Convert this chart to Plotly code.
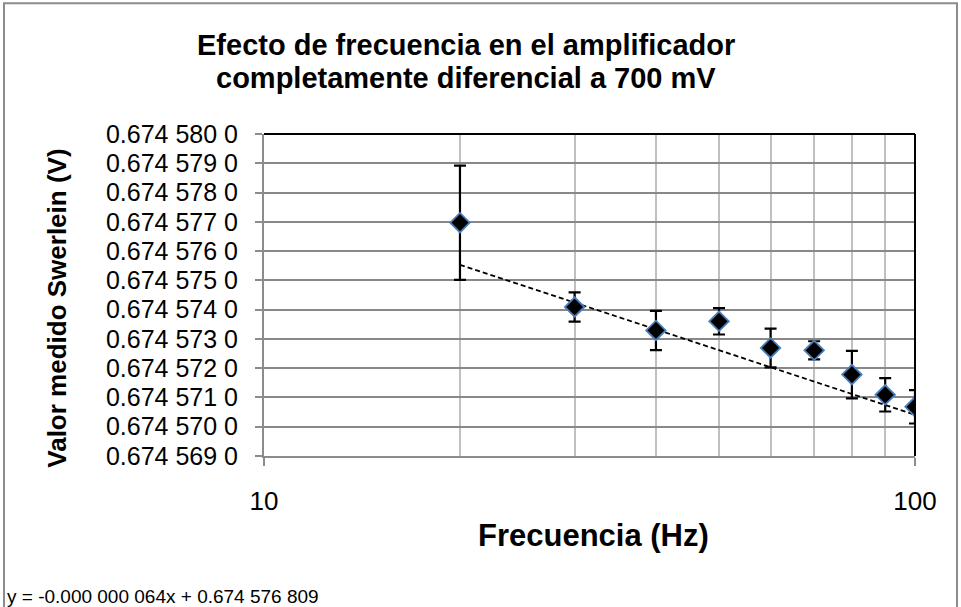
import plotly.graph_objects as go

# ---- data ----
freq_hz = [20, 30, 40, 50, 60, 70, 80, 90, 100]
swerlein_v = [0.67457697, 0.67457409, 0.67457329, 0.67457360, 0.67457269,
              0.67457261, 0.67457178, 0.67457109, 0.67457068]
err_v = [0.00000195, 0.00000050, 0.00000067, 0.00000045, 0.00000066,
         0.00000031, 0.00000081, 0.00000057, 0.00000057]
trend_slope = -0.000000064
trend_intercept = 0.674576809
y_ticks = [0.674569, 0.674570, 0.674571, 0.674572, 0.674573, 0.674574,
           0.674575, 0.674576, 0.674577, 0.674578, 0.674579, 0.674580]
y_tick_text = ["0.674 569 0", "0.674 570 0", "0.674 571 0", "0.674 572 0",
               "0.674 573 0", "0.674 574 0", "0.674 575 0", "0.674 576 0",
               "0.674 577 0", "0.674 578 0", "0.674 579 0", "0.674 580 0"]
x_major = [10, 100]
x_minor = [20, 30, 40, 50, 60, 70, 80, 90]
title_lines = ["Efecto de frecuencia en el amplificador",
               "completamente diferencial a 700 mV"]
x_title = "Frecuencia (Hz)"
y_title = "Valor medido Swerlein (V)"
equation = "y = -0.000 000 064x + 0.674 576 809"

# trendline endpoints (drawn straight between first and last frequency)
trend_x = [freq_hz[0], freq_hz[-1]]
trend_y = [trend_slope * f + trend_intercept for f in trend_x]

# ---- layout geometry (pixels) ----
W, H = 961, 607
L, R, T, B = 264, 915, 134, 456.5


def px(x):
    return (x - L) / (R - L)


def py(y):
    return (B - y) / (B - T)


FONT = "Liberation Sans, Arial, sans-serif"

fig = go.Figure()

fig.add_trace(go.Scatter(
    x=trend_x, y=trend_y, mode="lines",
    line=dict(color="black", width=1.8, dash="5px,3px"),
    hoverinfo="skip", showlegend=False))

fig.add_trace(go.Scatter(
    x=freq_hz, y=swerlein_v, mode="markers",
    marker=dict(symbol="diamond", size=15, color="black",
                line=dict(color="#4a7ebb", width=1.8)),
    error_y=dict(type="data", array=err_v, visible=True,
                 color="black", thickness=2.2, width=6),
    showlegend=False))

fig.update_layout(
    width=W, height=H,
    margin=dict(l=L, r=W - R, t=T, b=H - B, pad=0),
    paper_bgcolor="white", plot_bgcolor="white",
    font=dict(family=FONT, color="black"),
    xaxis=dict(
        type="log", range=[1, 2],
        tickvals=x_major, ticktext=["10", "100"],
        ticks="outside", ticklen=8, tickcolor="#8c8c8c", tickwidth=2,
        tickfont=dict(size=26, family=FONT),
        ticklabelstandoff=13,
        showgrid=False,
        showline=True, linecolor="#8c8c8c", linewidth=2,
        minor=dict(tickvals=x_minor, showgrid=True, gridcolor="#c0c0c0",
                   gridwidth=1.5, ticks=""),
        zeroline=False,
    ),
    yaxis=dict(
        range=[y_ticks[0], y_ticks[-1]],
        tickvals=y_ticks, ticktext=y_tick_text,
        ticks="outside", ticklen=7, tickcolor="#8c8c8c", tickwidth=1.5,
        tickfont=dict(size=25, family=FONT),
        ticklabelstandoff=12,
        showgrid=True, gridcolor="#888888", gridwidth=1.5,
        showline=True, linecolor="#8c8c8c", linewidth=2,
        zeroline=False,
    ),
    shapes=[
        dict(type="rect", xref="paper", yref="paper",
             x0=px(4), x1=px(957), y0=py(615), y1=py(3),
             line=dict(color="#8c8c8c", width=2), layer="below"),
        dict(type="line", xref="paper", yref="paper",
             x0=0, x1=1, y0=1, y1=1, line=dict(color="black", width=2)),
        dict(type="line", xref="paper", yref="paper",
             x0=1, x1=1, y0=0, y1=1, line=dict(color="black", width=2)),
    ],
    annotations=[
        dict(text="<b>%s</b>" % title_lines[0], xref="paper", yref="paper",
             x=px(466), y=py(45), showarrow=False, xanchor="center",
             yanchor="middle", font=dict(size=29, family=FONT)),
        dict(text="<b>%s</b>" % title_lines[1], xref="paper", yref="paper",
             x=px(466), y=py(78), showarrow=False, xanchor="center",
             yanchor="middle", font=dict(size=29, family=FONT)),
        dict(text="<b>%s</b>" % x_title, xref="paper", yref="paper",
             x=px(593), y=py(536), showarrow=False, xanchor="center",
             yanchor="middle", font=dict(size=31, family=FONT)),
        dict(text="<b>%s</b>" % y_title, xref="paper", yref="paper",
             x=px(57), y=py(309), showarrow=False, xanchor="center",
             yanchor="middle", textangle=-90, font=dict(size=26, family=FONT)),
        dict(text=equation, xref="paper", yref="paper",
             x=px(5), y=py(597), showarrow=False, xanchor="left",
             yanchor="middle", font=dict(size=19, family=FONT)),
    ],
)

fig.write_html(
    "out.html",
    config={"displayModeBar": False},
    post_script="document.body.style.margin='0';"
                "document.body.style.overflow='hidden';")
